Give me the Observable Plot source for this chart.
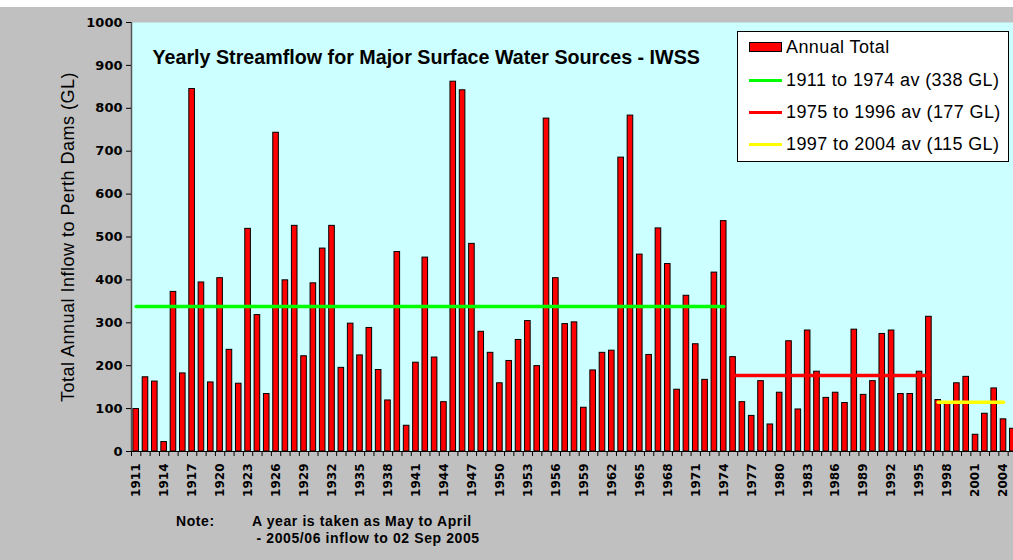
<!DOCTYPE html>
<html><head><meta charset="utf-8">
<script src="https://cdn.jsdelivr.net/npm/d3@7"></script>
<script src="https://cdn.jsdelivr.net/npm/@observablehq/plot@0.6"></script>
<style>
html,body{margin:0;padding:0;background:#c0c0c0;overflow:hidden;width:1013px;height:560px}
#wrap{position:relative;width:1013px;height:560px;overflow:hidden}
#topstrip{position:absolute;left:0;top:0;width:1013px;height:7px;background:#fff}
#legend{position:absolute;left:737px;top:31px;width:272px;height:131px;background:#fff;border:1px solid #000;box-sizing:border-box;font-family:"Liberation Sans",Arial,sans-serif;font-size:18px;letter-spacing:0.4px;color:#000}
.row{position:absolute;left:0;height:20px;line-height:20px;white-space:nowrap}
.sw{position:absolute;left:11px;width:33px}
.lab{position:absolute;left:48px;top:0}
.note{position:absolute;font-family:"Liberation Sans",Arial,sans-serif;font-weight:bold;font-size:14px;letter-spacing:0.6px;color:#000;white-space:pre}
</style></head>
<body><div id="wrap"><div id="topstrip"></div></div>
<script>
// ---- data ----
const years = d3.range(1911, 2006);
const inflow = [
  99,173,163,22,372,182,845,394,161,404,
  237,158,519,318,134,743,399,526,222,392,
  473,526,195,298,224,288,190,119,465,60,
  207,452,219,115,862,842,484,279,230,159,
  211,260,304,199,776,404,297,301,102,189,
  230,235,685,783,459,225,520,437,144,363,
  250,167,417,537,220,115,83,164,63,137,
  257,98,282,186,125,137,113,284,132,164,
  274,282,134,134,186,314,120,113,159,174,
  39,88,147,75,53
];
const periodLabels = ["1911 to 1974 av (338 GL)", "1975 to 1996 av (177 GL)", "1997 to 2004 av (115 GL)"];
const periodStart = [1911, 1975, 1997];
const periodEnd = [1974, 1996, 2004];
const periodAvg = [338, 177, 115];
const periodColors = ["#00ff00", "#ff0000", "#ffff00"];
const barLabel = "Annual Total";
const labelYears = years.filter(y => (y - 1911) % 3 === 0);
const yTicks = d3.range(0, 1001, 100);
const titleText = "Yearly Streamflow for Major Surface Water Sources - IWSS";
const yLabel = "Total Annual Inflow to Perth Dams (GL)";
const noteLines = [["Note:", 176, 513], ["A year is taken as May to April", 252, 513], [" - 2005/06 inflow to 02 Sep 2005", 252, 530]];

const data = years.map((y, i) => ({year: y, value: inflow[i]}));
const avgLines = periodLabels.map((l, i) => [
  {year: periodStart[i], v: periodAvg[i], k: i},
  {year: periodEnd[i], v: periodAvg[i], k: i}
]).flat();

const W = 1013, H = 560, mL = 131, mT = 22, mB = 109, mR = -4;
const step = (W - mR - mL) / years.length;
const tickFont = "DejaVu Sans, Verdana, sans-serif";

const chart = Plot.plot({
  width: W, height: H,
  marginLeft: mL, marginTop: mT, marginBottom: mB, marginRight: mR,
  style: {background: "transparent", fontFamily: "Liberation Sans, Arial, sans-serif", color: "#000"},
  x: {type: "band", domain: years, paddingInner: 0.4, paddingOuter: 0.2},
  y: {domain: [0, 1000]},
  marks: [
    Plot.frame({fill: "#ccffff", stroke: null}),
    Plot.barY(data, {x: "year", y: "value", fill: "#ff0000", stroke: "#000", strokeWidth: 1}),
    Plot.lineY(avgLines, {x: "year", y: "v", z: "k", stroke: d => periodColors[d.k], strokeWidth: 3.5}),
    Plot.ruleY([0], {stroke: "#000", strokeWidth: 1.2}),
    Plot.ruleX([years[0]], {dx: -step / 2, stroke: "#555", strokeWidth: 1.5}),
    Plot.axisY({ticks: yTicks, tickFormat: d => String(d), tickSize: 5, tickPadding: 4,
      label: yLabel, labelAnchor: "center", labelArrow: "none", labelOffset: 70}),
    Plot.axisX({tickSize: 5, tickFormat: () => "", dx: -step / 2, label: null}),
    Plot.axisX({ticks: labelYears, tickFormat: d => String(d), tickSize: 0, tickPadding: 12, tickRotate: -90, label: null}),
    Plot.text([titleText], {frameAnchor: "top-left", dx: 21, dy: 27, textAnchor: "start", fontWeight: "bold", fontSize: 19.7, fill: "#000"})
  ]
});
const wrap = document.getElementById("wrap");
wrap.insertBefore(chart, wrap.firstChild);
chart.style.position = "absolute"; chart.style.left = "0px"; chart.style.top = "0px";

const sel = d3.select(chart);
sel.selectAll("[aria-label='y-axis tick label']").attr("font-family", tickFont).attr("font-weight", "bold").attr("font-size", 13);
sel.selectAll("[aria-label='y-axis tick label'] text").attr("font-family", tickFont).attr("font-weight", "bold").attr("font-size", 13);
sel.selectAll("[aria-label='x-axis tick label']").attr("font-family", tickFont).attr("font-weight", "bold").attr("font-size", 12);
sel.selectAll("[aria-label='x-axis tick label'] text").attr("font-family", tickFont).attr("font-weight", "bold").attr("font-size", 12);
sel.selectAll("[aria-label='y-axis label']").attr("font-size", 18).attr("font-family", "Liberation Sans, Arial, sans-serif").attr("font-weight", "normal").style("letter-spacing", "0.5px");
sel.selectAll("[aria-label='y-axis label'] text").attr("font-size", 18).attr("font-family", "Liberation Sans, Arial, sans-serif").attr("font-weight", "normal").style("letter-spacing", "0.5px");

// legend
const lg = document.createElement("div"); lg.id = "legend"; wrap.appendChild(lg);
const rowsTop = [5, 38, 70, 102];
const r0 = document.createElement("div"); r0.className = "row"; r0.style.top = rowsTop[0] + "px"; r0.style.width = "100%";
r0.innerHTML = `<div class="sw" style="top:5px;height:10px;background:#ff0000;border:1px solid #000;box-sizing:border-box;width:33px"></div><div class="lab">${barLabel}</div>`;
lg.appendChild(r0);
periodLabels.forEach((l, i) => {
  const r = document.createElement("div"); r.className = "row"; r.style.top = rowsTop[i + 1] + "px"; r.style.width = "100%";
  r.innerHTML = `<div class="sw" style="top:9px;height:3px;background:${periodColors[i]}"></div><div class="lab">${l}</div>`;
  lg.appendChild(r);
});

// note
noteLines.forEach(([t, x, y]) => {
  const d = document.createElement("div"); d.className = "note"; d.textContent = t;
  d.style.left = x + "px"; d.style.top = y + "px"; wrap.appendChild(d);
});
</script>
</body></html>
